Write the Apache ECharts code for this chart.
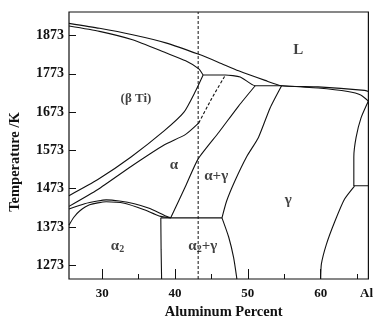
<!DOCTYPE html>
<html>
<head>
<meta charset="utf-8">
<script src="https://cdn.jsdelivr.net/npm/echarts@6/dist/echarts.min.js"></script>
<style>
    html, body {margin: 0; padding: 0; background: #fff;}
    #chart {width: 376px; height: 325px;}
</style>
</head>
<body>
<div id="chart"></div>
<script type="text/javascript">
    // Ti-Al phase diagram, boundaries as [at.% Al, temperature K]
    var liquidus = [[25.44,1905],[29.63,1892],[34.17,1875],[38.73,1854],[43.27,1824],[46.0,1803],[48.73,1781],[52.37,1756],[54.64,1742],[59.65,1739],[66.02,1730],[66.56,1727]];
    var betaSolidus = [[25.44,1898],[29.63,1884],[34.17,1862],[38.73,1828],[41.46,1807],[43.27,1786],[43.86,1770]];
    var peritectic = [[43.86,1770],[46.92,1770],[48.96,1765],[51.01,1742],[54.64,1742]];
    var gammaLiquid = [[54.64,1742],[59.65,1736],[63.74,1727],[65.51,1718],[66.56,1702]];
    var betaTransus = [[25.44,1455],[29.4,1497],[33.96,1556],[38.5,1624],[41.23,1673],[42.82,1728],[43.86,1770]];
    var alphaBeta = [[25.44,1427],[29.4,1471],[33.96,1531],[38.5,1587],[41.46,1615],[43.27,1645]];
    var alphaBetaDash = [[43.27,1645],[45.05,1709],[46.92,1770]];
    var alphaGamma = [[39.41,1397],[41.46,1480],[43.18,1551],[46.0,1620],[48.73,1689],[51.01,1742]];
    var gammaAlpha = [[54.64,1742],[53.06,1684],[51.46,1607],[49.82,1556],[48.19,1492],[47.09,1441],[46.45,1397]];
    var eutectoid = [[38.05,1397],[46.45,1397]];
    var alpha2Edge = [[38.05,1397],[38.09,1314],[38.16,1237]];
    var gammaLow = [[46.45,1397],[47.37,1347],[48.05,1293],[48.5,1237]];
    var domeUpper = [[25.44,1420],[27.59,1434],[29.36,1441],[30.55,1444],[32.36,1441],[34.41,1434],[36.45,1422],[38.5,1404],[39.41,1397]];
    var domeLower = [[25.44,1378],[26.08,1398],[26.9,1415],[28.27,1431],[30.55,1439],[33.04,1435],[35.77,1418],[37.82,1402],[39.41,1397]];
    var gammaRightUp = [[66.56,1702],[65.55,1658],[64.87,1607],[64.56,1556],[64.56,1480]];
    var gammaRightStep = [[64.56,1481],[66.56,1481]];
    var gammaRightLow = [[64.65,1480],[63.29,1446],[61.92,1386],[60.78,1327],[60.1,1276],[60.01,1237]];
    var alloyLine = 43.18;

    var phaseNames = ['L', '{b|(β Ti)}', 'α', 'α+γ', 'γ', 'α{s|2}', 'α{s|2}+γ'];
    var phaseX = [56.92, 34.64, 39.86, 45.66, 55.55, 32.1, 43.82];
    var phaseY = [1834, 1709, 1535, 1505, 1444, 1324, 1324];

    var xMajor = [30, 40, 50, 60];
    var xMinor = [35, 45, 55, 65];
    var yTicks = [1273, 1373, 1473, 1573, 1673, 1773, 1873];

    var xMin = 25.44, xMax = 66.56, yMin = 1237.3, yMax = 1934.6;
    var serif = "'Liberation Serif', 'Times New Roman', serif";
    var ink = '#111';

    function boundary(data, dashed) {
        return {
            type: 'line', data: data, showSymbol: false, symbol: 'none',
            smooth: 0.2, silent: true,
            lineStyle: {color: ink, width: 1.1, type: dashed ? [3, 2] : 'solid'}
        };
    }

    var chart = echarts.init(document.getElementById('chart'));
    var series = [
        boundary(liquidus), boundary(betaSolidus), boundary(peritectic), boundary(gammaLiquid),
        boundary(betaTransus), boundary(alphaBeta), boundary(alphaBetaDash, true),
        boundary(alphaGamma), boundary(gammaAlpha), boundary(eutectoid), boundary(alpha2Edge),
        boundary(gammaLow), boundary(domeUpper), boundary(domeLower),
        boundary(gammaRightUp), boundary(gammaRightStep), boundary(gammaRightLow),
        boundary([[alloyLine, yMin], [alloyLine, yMax]], true)
    ];
    series[series.length - 1].smooth = false;
    series[series.length - 1].lineStyle.width = 1;

    var labels = [];
    for (var i = 0; i < phaseNames.length; i++) {
        labels.push({value: [phaseX[i], phaseY[i]], name: phaseNames[i]});
    }
    series.push({
        type: 'scatter', data: labels, symbolSize: 1, itemStyle: {color: 'rgba(0,0,0,0)'}, silent: true,
        label: {
            show: true, position: 'inside', color: ink,
            fontFamily: serif, fontWeight: 'bold', fontSize: 15,
            formatter: function (p) { return p.name; },
            rich: {
                s: {fontFamily: serif, fontWeight: 'bold', fontSize: 10, padding: [7, 0, 0, 0], color: ink},
                b: {fontFamily: serif, fontWeight: 'bold', fontSize: 13, color: ink}
            }
        }
    });

    var option = {
        animation: false,
        grid: {left: 69, right: 5, top: 12, bottom: 40, show: true, borderColor: ink, borderWidth: 1.2},
        graphic: [{
            type: 'text', x: 15, y: 162, rotation: Math.PI / 2,
            style: {
                text: 'Temperature /K', fill: ink, align: 'center', verticalAlign: 'middle',
                font: 'bold 14.5px ' + serif
            }
        }],
        xAxis: [{
            type: 'value', min: xMin, max: xMax,
            name: 'Aluminum Percent', nameLocation: 'middle', nameGap: 26,
            nameTextStyle: {fontFamily: serif, fontWeight: 'bold', fontSize: 14.5, color: ink, padding: [0, 0, 0, 10]},
            axisLine: {show: false}, splitLine: {show: false},
            axisTick: {inside: true, length: 10, customValues: xMajor, lineStyle: {color: ink}},
            axisLabel: {
                customValues: xMajor.concat([66.3]), margin: 8, color: ink,
                fontFamily: serif, fontWeight: 'bold', fontSize: 13,
                formatter: function (v) { return v > 65 ? 'Al' : String(v); }
            }
        }, {
            type: 'value', min: xMin, max: xMax, position: 'bottom',
            axisLine: {show: false}, splitLine: {show: false}, axisLabel: {show: false},
            axisTick: {inside: true, length: 5, customValues: xMinor, lineStyle: {color: ink}}
        }],
        yAxis: {
            type: 'value', min: yMin, max: yMax,
            axisLine: {show: false}, splitLine: {show: false},
            axisTick: {inside: true, length: 7, customValues: yTicks, lineStyle: {color: ink}},
            axisLabel: {
                customValues: yTicks, margin: 5, color: ink, fontFamily: serif, fontWeight: 'bold', fontSize: 14,
                formatter: function (v) { return String(v); }
            }
        },
        series: series
    };
    chart.setOption(option);
</script>
</body>
</html>
